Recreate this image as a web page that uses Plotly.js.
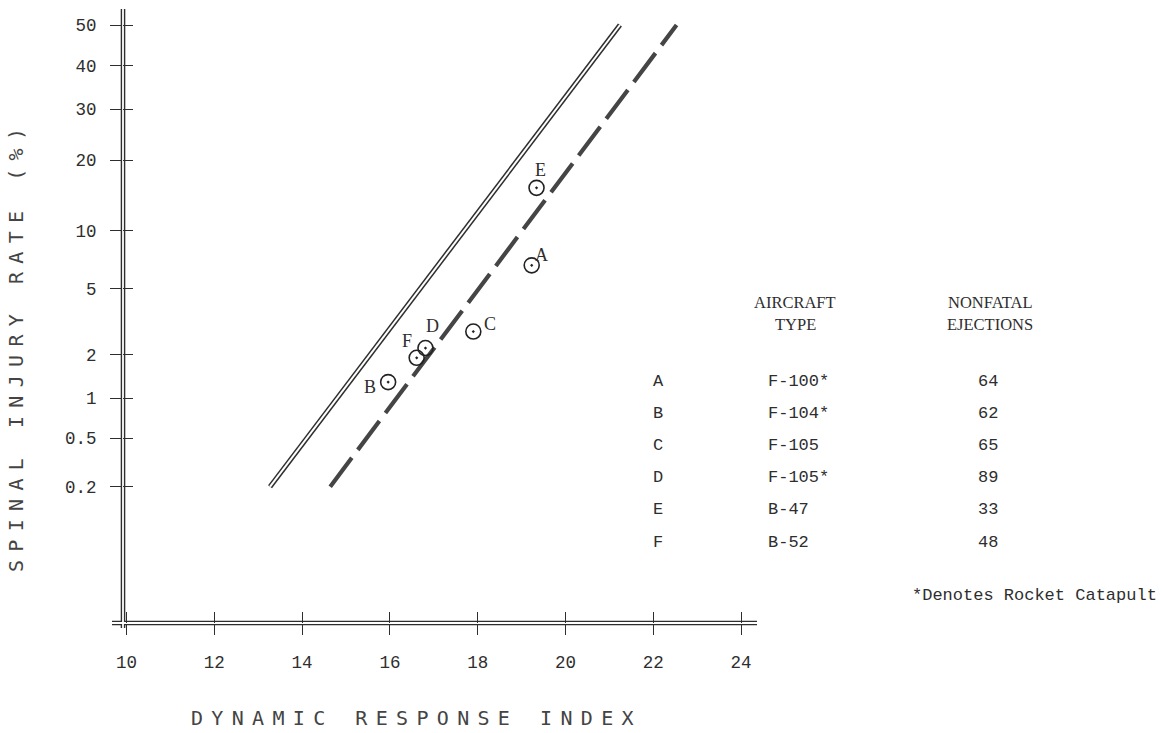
<!DOCTYPE html>
<html><head><meta charset="utf-8">
<script src="https://cdn.plot.ly/plotly-3.0.1.min.js"></script>
<style>html,body{margin:0;padding:0;background:#fff;}</style>
</head><body>
<div id="chart" style="width:1162px;height:733px;"></div>
<script>
// ---------------- data ----------------
const pointLabels = ['A', 'B', 'C', 'D', 'E', 'F'];
const pointDRI    = [19.23, 15.96, 17.90, 16.81, 19.34, 16.61];
const pointRate   = [6.7, 1.3, 2.8, 2.2, 15.5, 1.9];

const solidDRI  = [13.27, 21.24];
const solidRate = [0.2, 50];
const dashedDRI  = [14.64, 22.53];
const dashedRate = [0.2, 50];

const xTicks = [10, 12, 14, 16, 18, 20, 22, 24];
const yTickValues = [50, 40, 30, 20, 10, 5, 2, 1, 0.5, 0.2];
const yTickText = ['50', '40', '30', '20', '10', '5', '2', '1', '0.5', '0.2'];

const tableLetters   = ['A', 'B', 'C', 'D', 'E', 'F'];
const tableAircraft  = ['F-100*', 'F-104*', 'F-105', 'F-105*', 'B-47', 'B-52'];
const tableEjections = [64, 62, 65, 89, 33, 48];

// ---------------- probability (probit) scale ----------------
function probit(p) {
  const a = [-3.969683028665376e+01, 2.209460984245205e+02, -2.759285104469687e+02, 1.383577518672690e+02, -3.066479806614716e+01, 2.506628277459239e+00];
  const b = [-5.447609879822406e+01, 1.615858368580409e+02, -1.556989798598866e+02, 6.680131188771972e+01, -1.328068155288572e+01];
  const c = [-7.784894002430293e-03, -3.223964580411365e-01, -2.400758277161838e+00, -2.549732539343734e+00, 4.374664141464968e+00, 2.938163982698783e+00];
  const d = [7.784695709041462e-03, 3.224671290700398e-01, 2.445134137142996e+00, 3.754408661907416e+00];
  const plow = 0.02425, phigh = 1 - plow;
  let q, r;
  if (p < plow) {
    q = Math.sqrt(-2 * Math.log(p));
    return (((((c[0]*q + c[1])*q + c[2])*q + c[3])*q + c[4])*q + c[5]) / ((((d[0]*q + d[1])*q + d[2])*q + d[3])*q + 1);
  } else if (p <= phigh) {
    q = p - 0.5; r = q*q;
    return (((((a[0]*r + a[1])*r + a[2])*r + a[3])*r + a[4])*r + a[5])*q / (((((b[0]*r + b[1])*r + b[2])*r + b[3])*r + b[4])*r + 1);
  } else {
    q = Math.sqrt(-2 * Math.log(1 - p));
    return -(((((c[0]*q + c[1])*q + c[2])*q + c[3])*q + c[4])*q + c[5]) / ((((d[0]*q + d[1])*q + d[2])*q + d[3])*q + 1);
  }
}
const zPct = pct => probit(pct / 100);

// ---------------- geometry helpers (page pixels -> paper) ----------------
const W = 1162, H = 733;
const M = {l: 123, r: 405, t: 9, b: 110};
const PW = W - M.l - M.r, PH = H - M.t - M.b;
const px = x => (x - M.l) / PW;
const py = y => (H - M.b - y) / PH;

const ink = '#2e2e2e';
const mono = 'Liberation Mono, Courier New, monospace';
const serif = 'Liberation Serif, Times New Roman, serif';
const sansMono = 'DejaVu Sans Mono, monospace';

// ---------------- traces ----------------
const traces = [
  { x: dashedDRI, y: dashedRate.map(zPct), mode: 'lines', hoverinfo: 'skip',
    line: {color: '#454545', width: 4.2, dash: '36px,10px'} },
  { x: solidDRI, y: solidRate.map(zPct), mode: 'lines', hoverinfo: 'skip',
    line: {color: ink, width: 5} },
  { x: solidDRI, y: solidRate.map(zPct), mode: 'lines', hoverinfo: 'skip',
    line: {color: '#ffffff', width: 2} },
  { x: pointDRI, y: pointRate.map(zPct), mode: 'markers', text: pointLabels,
    marker: {symbol: 'circle-open-dot', size: 15, color: '#222', line: {width: 1.6, color: '#222'}},
    hovertemplate: '%{text}: DRI %{x}<extra></extra>' },
  { x: [], y: [], xaxis: 'x2', yaxis: 'y', hoverinfo: 'skip' },
  { x: [], y: [], xaxis: 'x', yaxis: 'y2', hoverinfo: 'skip' }
];

// ---------------- annotations ----------------
const gap = '<span style="font-size:13.8px">\u00A0</span>';
const wordGap = '<span style="font-size:16.7px">\u00A0\u00A0\u00A0</span>';
const spaced = s => s.split(' ').map(w => w.split('').join(gap)).join(wordGap);
const ann = [];
ann.push({ text: spaced('SPINAL INJURY RATE (%)'), textangle: -90, xref: 'paper', yref: 'paper',
  x: px(16), y: py(350), xanchor: 'center', yanchor: 'middle', showarrow: false,
  font: {family: sansMono, size: 20, color: '#444'} });
ann.push({ text: spaced('DYNAMIC RESPONSE INDEX'), xref: 'paper', yref: 'paper',
  x: px(412), y: py(718), xanchor: 'center', yanchor: 'middle', showarrow: false,
  font: {family: sansMono, size: 20, color: '#444'} });

// point letters next to the circles (offsets in pixels)
const labelShift = {A: [10, 10], B: [-18, -5], C: [17, 8], D: [7, 22], E: [4, 18], F: [-10, 17]};
pointLabels.forEach((L, i) => {
  ann.push({ text: L, x: pointDRI[i], y: zPct(pointRate[i]), xref: 'x', yref: 'y',
    xshift: labelShift[L][0], yshift: labelShift[L][1], showarrow: false,
    xanchor: 'center', yanchor: 'middle', font: {family: serif, size: 18, color: ink} });
});

const hdrFont = {family: serif, size: 16.5, color: ink};
[['AIRCRAFT', 795, 302], ['TYPE', 795, 324], ['NONFATAL', 990, 302], ['EJECTIONS', 990, 324]].forEach(h => {
  ann.push({ text: h[0], xref: 'paper', yref: 'paper', x: px(h[1]), y: py(h[2]),
    xanchor: 'center', yanchor: 'middle', showarrow: false, font: hdrFont });
});
const rowFont = {family: mono, size: 17, color: ink};
tableLetters.forEach((L, i) => {
  const yy = py(381 + i * 32.2);
  ann.push({ text: L, xref: 'paper', yref: 'paper', x: px(658), y: yy, xanchor: 'center', yanchor: 'middle', showarrow: false, font: rowFont });
  ann.push({ text: tableAircraft[i], xref: 'paper', yref: 'paper', x: px(766), y: yy, xanchor: 'left', yanchor: 'middle', showarrow: false, font: rowFont });
  ann.push({ text: String(tableEjections[i]), xref: 'paper', yref: 'paper', x: px(988), y: yy, xanchor: 'center', yanchor: 'middle', showarrow: false, font: rowFont });
});
ann.push({ text: '*Denotes Rocket Catapult', xref: 'paper', yref: 'paper', x: px(910), y: py(595),
  xanchor: 'left', yanchor: 'middle', showarrow: false, font: rowFont });

// ---------------- axis lines (double) ----------------
const shp = (x0, y0, x1, y1, color, width) => ({ type: 'line', xref: 'paper', yref: 'paper', layer: 'below',
  x0: px(x0), y0: py(y0), x1: px(x1), y1: py(y1), line: {color: color, width: width} });
const shapes = [
  shp(123, 9, 123, 628, ink, 4.6),
  shp(112, 623, 757, 623, ink, 4.6),
  shp(112, 623, 757, 623, '#fff', 1.8),
  shp(123, 9, 123, 628, '#fff', 1.8)
];

// ---------------- layout ----------------
const xRange = [10 + (M.l - 126.5) / 43.9, 10 + (W - M.r - 126.5) / 43.9];
const yRange = [-(H - M.b - 25) / 160.4, (25 - M.t) / 160.4];
const tickStyle = {tickcolor: ink, tickwidth: 1.3, showgrid: false, zeroline: false, showline: false};

const layout = {
  width: W, height: H, margin: M, showlegend: false,
  paper_bgcolor: '#fff', plot_bgcolor: '#fff',
  xaxis: Object.assign({ range: xRange, tickmode: 'array', tickvals: xTicks, ticks: 'outside', ticklen: 11,
    ticklabelstandoff: 12, tickfont: {family: mono, size: 17.5, color: ink} }, tickStyle),
  xaxis2: Object.assign({ range: xRange, overlaying: 'x', anchor: 'y', tickmode: 'array', tickvals: xTicks,
    ticks: 'inside', ticklen: 11, showticklabels: false }, tickStyle),
  yaxis: Object.assign({ range: yRange, tickmode: 'array', tickvals: yTickValues.map(zPct), ticktext: yTickText,
    ticks: 'outside', ticklen: 12, ticklabelstandoff: 10, tickfont: {family: mono, size: 17.5, color: ink} }, tickStyle),
  yaxis2: Object.assign({ range: yRange, overlaying: 'y', anchor: 'x', side: 'left', tickmode: 'array',
    tickvals: yTickValues.map(zPct), ticks: 'inside', ticklen: 10, showticklabels: false }, tickStyle),
  shapes: shapes,
  annotations: ann
};

Plotly.newPlot('chart', traces, layout, {displayModeBar: false, responsive: false});
</script>
</body></html>
